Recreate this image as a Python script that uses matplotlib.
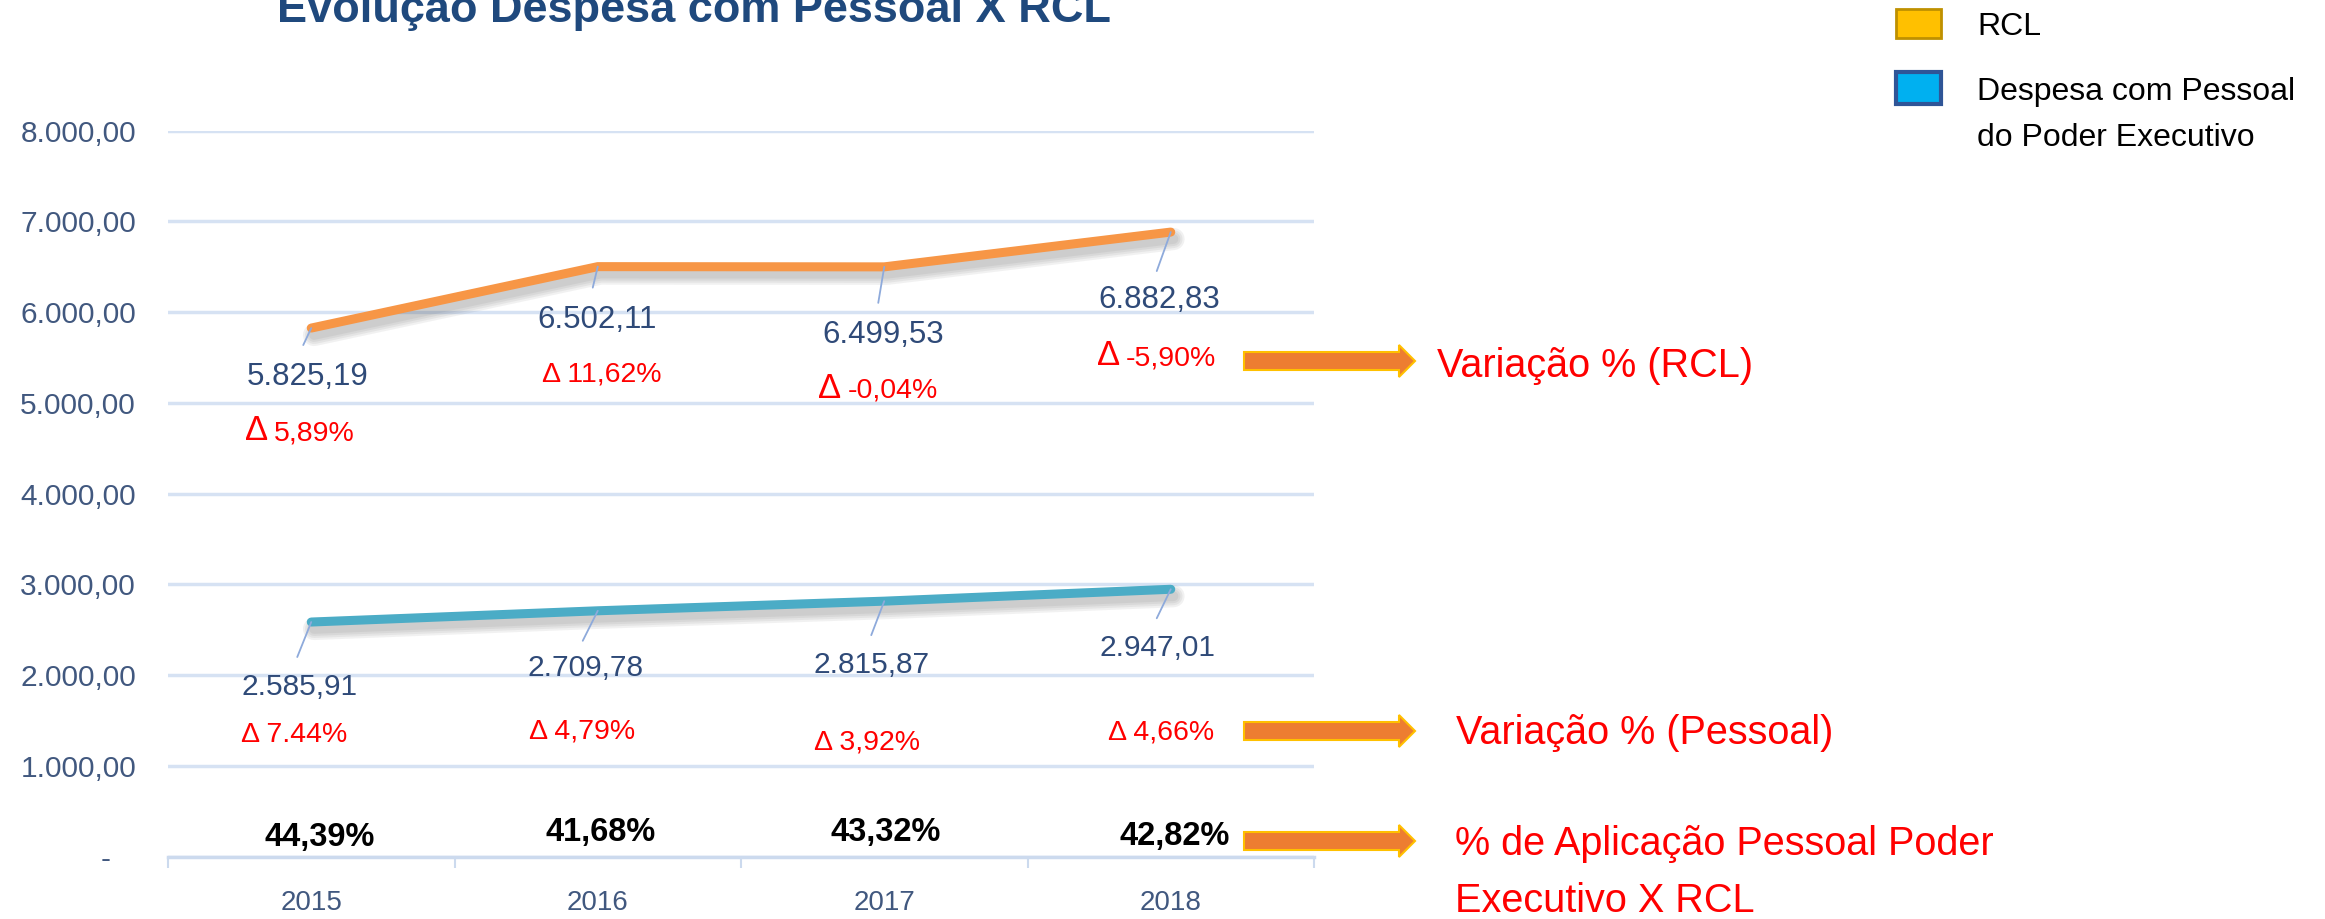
import matplotlib
matplotlib.use('Agg')
import matplotlib.pyplot as plt
import matplotlib.patheffects as pe
from matplotlib.patches import Rectangle, FancyArrow

plt.rcParams['font.family'] = ['Liberation Sans', 'DejaVu Sans']

# dados
years = ['2015', '2016', '2017', '2018']
rcl = [5825.19, 6502.11, 6499.53, 6882.83]
pessoal = [2585.91, 2709.78, 2815.87, 2947.01]
var_rcl = ['5,89%', '11,62%', '-0,04%', '-5,90%']
var_pessoal = ['7.44%', '4,79%', '3,92%', '4,66%']
aplicacao = ['44,39%', '41,68%', '43,32%', '42,82%']
yticks = [0, 1000, 2000, 3000, 4000, 5000, 6000, 7000, 8000]


def br(v):
    s = f"{v:,.2f}"
    return s.replace(',', '#').replace('.', ',').replace('#', '.')


W, H = 2325, 919
fig = plt.figure(figsize=(W / 100, H / 100), dpi=100)
ax = fig.add_axes([168 / W, 1 - 856.7 / H, (1314 - 168) / W, (856.7 - 130.7) / H])

x = list(range(len(years)))
shadow = [pe.SimpleLineShadow(offset=(2, -5), shadow_color='#444444', alpha=0.07, linewidth=lw)
          for lw in (16, 13, 10, 7)] + [pe.Normal()]
ax.plot(x, rcl, color='#F79646', lw=6.5, solid_capstyle='round', path_effects=shadow, zorder=3)
ax.plot(x, pessoal, color='#4BACC6', lw=6.5, solid_capstyle='round', path_effects=shadow, zorder=3)

ax.set_xlim(-0.5, 3.5)
ax.set_ylim(0, 8000)
ax.set_yticks(yticks)
ax.set_yticklabels([br(v) if v else '-   ' for v in yticks])
ax.set_xticks(x)
ax.set_xticklabels(years)
ax.set_xticks([-0.5, 0.5, 1.5, 2.5, 3.5], minor=True)
ax.yaxis.grid(True, color='#D6E2F3', lw=2.5)
ax.set_axisbelow(True)
for s in ['top', 'left', 'right']:
    ax.spines[s].set_visible(False)
ax.spines['bottom'].set_color('#CCDAEE')
ax.spines['bottom'].set_linewidth(2.5)
ax.tick_params(axis='y', length=0, pad=23, labelsize=21.5, labelcolor='#41587F')
ax.tick_params(axis='x', which='major', length=0, pad=24, labelsize=20, labelcolor='#41587F')
ax.tick_params(axis='x', which='minor', length=8, width=1.5, color='#CCDAEE')

navy = '#2F4A78'
lead = '#8EAADB'
red = '#FF0000'


def delta_label(i, v, txt, off, big):
    # big = (borda esq, borda dir, linha de base) em pixels relativos ao ponto
    if big:
        left, right, base = big
        ax.annotate('Δ', xy=(i, v), xytext=(left, base), textcoords='offset pixels',
                    ha='left', va='baseline', fontsize=25, color=red)
        ax.annotate(txt, xy=(i, v), xytext=(right, base), textcoords='offset pixels',
                    ha='right', va='baseline', fontsize=20.5, color=red)
    else:
        ax.annotate('Δ ' + txt, xy=(i, v), xytext=off, textcoords='offset pixels',
                    ha='center', va='center', fontsize=20.5, color=red)


# rotulos RCL
rcl_lbl = [(-4, -49), (-1, -53), (-1, -68), (-11, -68)]
rcl_lead = [(-8, -17), (-5, -21), (-6, -36), (-14, -39)]
rcl_var = [(-12, -102), (4, -108), (-6, -121), (-14, -121)]
rcl_big = [(-66, 43, -112), None, (-66, 54, -131), (-74, 45, -133)]
for i, v in enumerate(rcl):
    ax.annotate('', xy=(i, v), xytext=rcl_lead[i], textcoords='offset pixels',
                arrowprops=dict(arrowstyle='-', color=lead, lw=1.3, shrinkA=0, shrinkB=0), zorder=4)
    ax.annotate(br(v), xy=(i, v), xytext=rcl_lbl[i], textcoords='offset pixels',
                ha='center', va='center', fontsize=22.5, color=navy)
    delta_label(i, v, var_rcl[i], rcl_var[i], rcl_big[i])

# rotulos Pessoal
pes_lbl = [(-12, -65), (-12, -57), (-13, -64), (-13, -59)]
pes_lead = [(-14, -35), (-15, -30), (-13, -34), (-14, -29)]
pes_var = [(-17, -113), (-16, -121), (-17, -141), (-10, -143)]
for i, v in enumerate(pessoal):
    ax.annotate('', xy=(i, v), xytext=pes_lead[i], textcoords='offset pixels',
                arrowprops=dict(arrowstyle='-', color=lead, lw=1.3, shrinkA=0, shrinkB=0), zorder=4)
    ax.annotate(br(v), xy=(i, v), xytext=pes_lbl[i], textcoords='offset pixels',
                ha='center', va='center', fontsize=21.5, color=navy)
    delta_label(i, v, var_pessoal[i], pes_var[i], None)

# % aplicacao
apl_off = [(8, 19), (3, 24), (1, 24), (4, 20)]
for i, t in enumerate(aplicacao):
    ax.annotate(t, xy=(i, 0), xycoords=ax.get_xaxis_transform(), xytext=apl_off[i],
                textcoords='offset pixels', ha='center', va='center',
                fontsize=23.5, fontweight='bold', color='black')

# camada de anotacoes em pixels
ov = fig.add_axes([0, 0, 1, 1])
ov.set_xlim(0, W)
ov.set_ylim(H, 0)
ov.axis('off')

ov.text(694, 22, 'Evolução Despesa com Pessoal X RCL', ha='center', va='baseline',
        fontsize=32.5, fontweight='bold', color='#1F497D')

for yy in [361, 731, 841]:
    ov.add_patch(FancyArrow(1244, yy, 171, 0, width=18, head_width=32, head_length=16,
                            length_includes_head=True, fc='#ED7D31', ec='#FFC000', lw=1.5))

ov.text(1437, 377, 'Variação % (RCL)', fontsize=28.5, color=red, va='baseline')
ov.text(1456, 744, 'Variação % (Pessoal)', fontsize=28.5, color=red, va='baseline')
ov.text(1455, 855, '% de Aplicação Pessoal Poder', fontsize=28.5, color=red, va='baseline')
ov.text(1455, 912, 'Executivo X RCL', fontsize=28.5, color=red, va='baseline')

# legenda
ov.add_patch(Rectangle((1896, 9), 45, 29, fc='#FFC000', ec='#BF9000', lw=2))
ov.add_patch(Rectangle((1896, 72), 45, 32, fc='#00B0F0', ec='#2F5597', lw=3))
ov.text(1977, 35, 'RCL', fontsize=23, color='black', va='baseline')
ov.text(1977, 100, 'Despesa com Pessoal', fontsize=23, color='black', va='baseline')
ov.text(1977, 146, 'do Poder Executivo', fontsize=23, color='black', va='baseline')

fig.savefig('out.png', dpi=100)
